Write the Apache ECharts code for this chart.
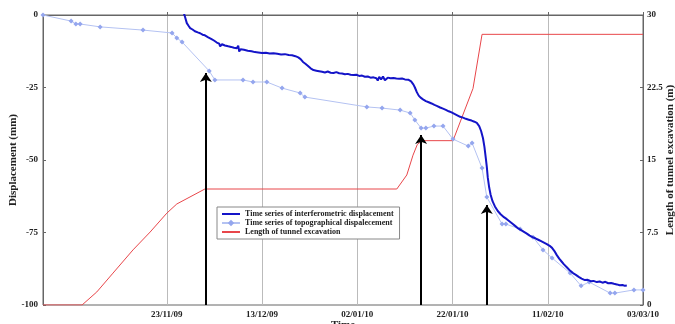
<!DOCTYPE html>
<html>
<head>
<meta charset="utf-8">
<script src="https://cdn.jsdelivr.net/npm/echarts@6/dist/echarts.min.js"></script>
<style>
html,body{margin:0;padding:0;background:#fff;}
#chart{width:675px;height:324px;}
</style>
</head>
<body>
<div id="chart"></div>
<script>
// ---- data (x in days since START_DATE) ----
var START_DATE = [2009, 10, 28];
var END_DAY = 126;
var xTickLabels = ['23/11/09', '13/12/09', '02/01/10', '22/01/10', '11/02/10', '03/03/10'];

var seriesNames = [
  'Time series of interferometric displacement',
  'Time series of topographical dispalecement',
  'Length of tunnel excavation'
];

var interfDays = [29.4,29.8,30.2,30.6,30.9,31.4,31.9,32.5,33.0,33.5,34.0,34.7,35.3,35.9,36.5,37.0,37.2,37.6,38.2,38.9,39.5,40.1,40.7,41.0,41.2,41.5,42.2,43.0,43.8,44.5,45.2,46.0,46.8,47.6,48.4,49.2,50.0,50.8,51.6,52.3,53.0,53.6,54.1,54.6,55.1,55.6,56.2,56.8,57.4,57.8,58.6,59.2,59.8,60.4,61.0,61.6,62.2,62.8,63.4,64.0,64.6,65.2,65.8,66.4,67.0,67.6,68.2,68.8,69.4,70.0,70.3,70.6,71.0,71.4,71.8,72.4,73.0,73.6,74.2,74.8,75.4,76.0,76.7,77.3,77.8,78.1,78.5,78.9,79.3,79.8,80.4,81.0,81.6,82.2,82.8,83.4,84.0,84.6,85.2,85.8,86.4,87.0,87.6,88.2,88.8,89.4,90.0,90.6,91.1,91.6,92.0,92.4,92.7,93.0,93.2,93.4,93.7,94.0,94.4,94.9,95.5,96.1,96.8,97.4,98.0,98.6,99.2,99.8,100.4,101.0,101.6,102.2,102.8,103.4,104.0,104.6,105.2,105.8,106.4,106.9,107.4,107.9,108.4,108.9,109.4,110.0,110.6,111.3,111.9,112.5,113.1,113.8,114.4,115.0,115.6,116.3,116.9,117.5,118.1,118.7,119.3,119.9,120.5,121.1,121.7,122.2,122.6];
var interfDisp = [1.5,-0.5,-2.8,-3.8,-4.5,-5.0,-5.6,-6.0,-6.3,-6.8,-7.0,-7.7,-8.2,-8.8,-9.5,-9.9,-10.8,-10.1,-10.5,-10.8,-11.0,-11.3,-11.5,-10.6,-12.6,-11.8,-12.0,-12.3,-12.5,-12.8,-12.9,-13.1,-13.0,-13.3,-13.2,-13.4,-13.6,-13.5,-13.8,-13.9,-14.2,-14.6,-15.2,-16.2,-16.8,-17.5,-18.4,-19.0,-19.2,-18.6,-19.6,-19.8,-19.5,-19.9,-20.0,-19.7,-20.1,-20.2,-20.4,-20.3,-20.6,-20.7,-20.6,-21.0,-20.9,-21.3,-21.2,-21.6,-21.5,-21.8,-22.6,-21.3,-22.2,-21.2,-22.5,-21.6,-21.8,-21.7,-21.9,-22.0,-21.9,-22.2,-22.3,-22.9,-24.0,-25.0,-26.6,-27.8,-28.5,-29.1,-29.7,-30.1,-30.5,-31.0,-31.4,-31.9,-32.3,-32.7,-33.2,-33.6,-34.1,-34.6,-35.1,-35.4,-35.8,-36.1,-36.4,-36.8,-37.2,-38.3,-40.0,-42.5,-45.5,-49.5,-52.4,-56.0,-59.5,-62.0,-64.2,-66.0,-67.6,-68.7,-69.7,-70.4,-71.2,-72.0,-72.8,-73.6,-74.2,-74.8,-75.4,-76.1,-76.6,-77.0,-77.5,-78.0,-78.5,-79.0,-79.6,-80.3,-81.4,-82.8,-84.0,-85.0,-86.0,-87.0,-88.0,-89.0,-89.6,-90.3,-90.9,-91.4,-91.3,-91.8,-91.7,-92.1,-91.9,-92.3,-92.0,-92.5,-92.4,-92.7,-92.9,-93.2,-93.1,-93.4,-93.3];

var topoDays = [0,5.9,6.9,7.8,12.0,21.0,27.1,28.1,29.2,34.9,36.1,42.0,44.1,47.0,50.2,54.0,55.0,68.0,71.2,75.0,77.1,78.1,79.4,80.4,82.1,84.0,86.1,89.3,90.1,92.2,93.2,96.4,97.2,100.2,102.9,105.0,106.9,110.7,113.0,114.7,119.1,120.1,124.1,126.0];
var topoDisp = [0,-2.1,-3.1,-3.1,-4.1,-5.2,-6.2,-7.9,-9.3,-19.3,-22.4,-22.4,-23.1,-23.1,-25.2,-26.9,-28.3,-31.7,-32.1,-32.8,-33.8,-36.2,-39.0,-39.0,-38.3,-38.3,-42.8,-45.2,-44.1,-52.8,-62.8,-72.1,-72.1,-73.8,-76.6,-81.0,-83.8,-89.0,-93.4,-92.1,-95.9,-95.9,-94.8,-94.8];

var tunnelDays = [0,8.2,11.3,14.7,18.9,22.5,26.0,28.1,34.0,74.3,76.4,77.7,78.6,79.6,86.1,90.3,92.2,126];
var tunnelLen = [0,0,1.35,3.3,5.7,7.55,9.5,10.45,12.0,12.0,13.45,15.5,16.6,17.0,17.0,22.4,28.0,28.0];

var arrowDays = [34.2, 79.4, 93.2];
var arrowTops = [-20.0, -41.4, -65.5];
var arrowBase = -100;

// ---- helpers ----
var DAY = 86400000;
var T0 = Date.UTC(START_DATE[0], START_DATE[1] - 1, START_DATE[2]);
function parseLabel(s) {
  var p = s.split('/');
  return Math.round((Date.UTC(2000 + parseInt(p[2], 10), parseInt(p[1], 10) - 1, parseInt(p[0], 10)) - T0) / DAY);
}
function pad(n) { return (n < 10 ? '0' : '') + n; }
function fmt(v) {
  var d = new Date(T0 + Math.round(v) * DAY);
  return pad(d.getUTCDate()) + '/' + pad(d.getUTCMonth() + 1) + '/' + pad(d.getUTCFullYear() % 100);
}
function zip(xs, ys) { return xs.map(function (x, i) { return [x, ys[i]]; }); }

var xTickValues = xTickLabels.map(parseLabel);
var FONT = 'Liberation Serif';
var txt = { fontFamily: FONT, fontWeight: 'bold', fontSize: 9, color: '#222' };
var nameTxt = { fontFamily: FONT, fontWeight: 'bold', fontSize: 11, color: '#222' };

var arrowData = arrowDays.map(function (d, i) {
  return [{ coord: [d, arrowBase] }, { coord: [d, arrowTops[i]] }];
});

var chart = echarts.init(document.getElementById('chart'), null, { renderer: 'canvas' });
chart.setOption({
  animation: false,
  backgroundColor: '#fff',
  grid: { left: 43, right: 32, top: 15, bottom: 19, containLabel: false, outerBoundsMode: 'none', show: true, borderColor: '#666', borderWidth: 1, backgroundColor: 'transparent' },
  legend: {
    orient: 'vertical',
    left: 217, top: 207,
    padding: [3, 6, 3, 4],
    itemGap: 1,
    itemWidth: 18, itemHeight: 8,
    backgroundColor: '#fff',
    borderColor: '#888', borderWidth: 1,
    textStyle: { fontFamily: FONT, fontWeight: 'bold', fontSize: 8, color: '#222' },
    data: [
      { name: seriesNames[0], itemStyle: { opacity: 0 } },
      { name: seriesNames[1] },
      { name: seriesNames[2], itemStyle: { opacity: 0 } }
    ],
    z: 10
  },
  xAxis: {
    type: 'value',
    min: 0, max: END_DAY,
    name: 'Time', nameLocation: 'middle', nameGap: 20, nameMoveOverlap: false,
    nameTextStyle: Object.assign({ verticalAlign: 'middle' }, nameTxt),
    axisLine: { lineStyle: { color: '#666', width: 1 } },
    axisTick: { inside: true, length: 3, customValues: xTickValues, lineStyle: { color: '#666' } },
    axisLabel: Object.assign({ customValues: xTickValues, formatter: fmt, margin: 5, hideOverlap: false }, txt),
    splitLine: { show: true, lineStyle: { color: '#bbb', width: 1 } }
  },
  yAxis: [{
    type: 'value', min: -100, max: 0, interval: 25,
    name: 'Displacement (mm)', nameLocation: 'middle', nameGap: 30, nameRotate: 90, nameMoveOverlap: false,
    nameTextStyle: Object.assign({ verticalAlign: 'middle' }, nameTxt),
    axisLine: { show: true, lineStyle: { color: '#666' } },
    axisTick: { show: true, inside: true, length: 3, lineStyle: { color: '#666' } },
    axisLabel: Object.assign({ margin: 5 }, txt),
    splitLine: { show: false }
  }, {
    type: 'value', min: 0, max: 30, interval: 7.5, position: 'right',
    name: 'Length of tunnel excavation (m)', nameLocation: 'middle', nameGap: 27, nameRotate: 90, nameMoveOverlap: false,
    nameTextStyle: Object.assign({ verticalAlign: 'middle' }, nameTxt),
    axisLine: { show: true, lineStyle: { color: '#666' } },
    axisTick: { show: true, inside: true, length: 3, lineStyle: { color: '#666' } },
    axisLabel: Object.assign({ margin: 4 }, txt),
    splitLine: { show: false }
  }],
  series: [{
    name: seriesNames[2], type: 'line', yAxisIndex: 1,
    data: zip(tunnelDays, tunnelLen),
    showSymbol: false, symbol: 'none',
    lineStyle: { color: '#e8464a', width: 1 }, itemStyle: { color: '#e8464a' },
    z: 2
  }, {
    name: seriesNames[1], type: 'line', yAxisIndex: 0,
    data: zip(topoDays, topoDisp),
    symbol: 'diamond', symbolSize: 5, showSymbol: true,
    lineStyle: { color: '#b4c2f2', width: 1 }, itemStyle: { color: '#94a6ee' },
    z: 3
  }, {
    name: seriesNames[0], type: 'line', yAxisIndex: 0,
    data: zip(interfDays, interfDisp),
    showSymbol: false, symbol: 'none',
    lineStyle: { color: '#1414c8', width: 2 }, itemStyle: { color: '#1414c8' },
    z: 4,
    markLine: {
      silent: true, animation: false,
      symbol: ['none', 'arrow'], symbolSize: 9,
      label: { show: false },
      lineStyle: { color: '#000', width: 2, type: 'solid' },
      emphasis: { disabled: true },
      data: arrowData
    }
  }]
});
</script>
</body>
</html>
